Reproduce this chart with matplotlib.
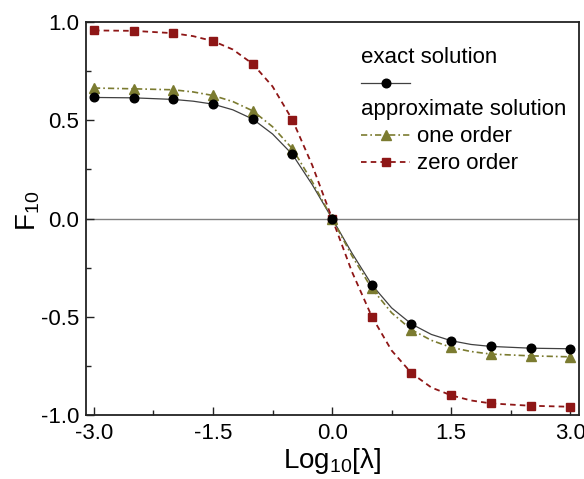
import matplotlib
matplotlib.use("Agg")
import matplotlib.pyplot as plt
from matplotlib.lines import Line2D
from matplotlib.legend_handler import HandlerTuple
from matplotlib.ticker import MultipleLocator

plt.rcParams['font.family'] = ['Liberation Sans', 'DejaVu Sans']
plt.rcParams['mathtext.fontset'] = 'custom'
plt.rcParams['mathtext.rm'] = 'Liberation Sans'
plt.rcParams['mathtext.default'] = 'regular'
plt.rcParams['axes.unicode_minus'] = False
plt.rcParams['lines.scale_dashes'] = False

# ---- data ----
marker_x = [-3.0, -2.5, -2.0, -1.5, -1.0, -0.5, 0.0, 0.5, 1.0, 1.5, 2.0, 2.5, 3.0]
exact_pts = [0.616, 0.614, 0.606, 0.582, 0.506, 0.326, 0.0, -0.337, -0.537, -0.622, -0.651, -0.660, -0.663]
one_pts = [0.664, 0.660, 0.655, 0.626, 0.548, 0.355, 0.0, -0.356, -0.566, -0.656, -0.690, -0.699, -0.704]
zero_pts = [0.957, 0.955, 0.943, 0.903, 0.787, 0.502, 0.0, -0.499, -0.787, -0.900, -0.941, -0.953, -0.958]

line_x = [-3.0, -2.5, -2.0, -1.75, -1.5, -1.25, -1.0, -0.75, -0.5, -0.25, 0.0,
          0.25, 0.5, 0.75, 1.0, 1.25, 1.5, 1.75, 2.0, 2.5, 3.0]
exact_line = [0.616, 0.614, 0.606, 0.597, 0.582, 0.553, 0.506, 0.430, 0.326, 0.172, 0.0,
              -0.176, -0.337, -0.455, -0.537, -0.590, -0.622, -0.641, -0.651, -0.660, -0.663]
one_line = [0.664, 0.660, 0.655, 0.644, 0.626, 0.595, 0.548, 0.467, 0.355, 0.187, 0.0,
            -0.190, -0.356, -0.480, -0.566, -0.620, -0.656, -0.677, -0.690, -0.699, -0.704]
zero_line = [0.957, 0.955, 0.943, 0.928, 0.903, 0.860, 0.787, 0.672, 0.502, 0.271, 0.0,
             -0.271, -0.499, -0.672, -0.787, -0.860, -0.900, -0.926, -0.941, -0.953, -0.958]

x_ticks = [-3.0, -1.5, 0.0, 1.5, 3.0]
y_ticks = [-1.0, -0.5, 0.0, 0.5, 1.0]

RED = '#8e1616'
OLIVE = '#7b7b30'
GRAY = '#404040'

fig = plt.figure(figsize=(5.84, 4.79), dpi=100)
ax = fig.add_axes([86 / 584, 64 / 479, 493 / 584, 393 / 479])

ax.axhline(0, color='#808080', lw=1.0, zorder=1)

dash_zero = (0, (4.0, 3.0))
dash_one = (0, (4.5, 2.2, 1.2, 2.2))

ax.plot(line_x, exact_line, color=GRAY, lw=0.9, zorder=2)
ax.plot(line_x, one_line, color=OLIVE, lw=1.2, ls=dash_one, zorder=2)
ax.plot(line_x, zero_line, color=RED, lw=1.3, ls=dash_zero, zorder=2)

ax.plot(marker_x, zero_pts, ls='none', marker='s', ms=5.4, color=RED, zorder=3)
ax.plot(marker_x, one_pts, ls='none', marker='^', ms=6.8, color=OLIVE, zorder=3)
ax.plot(marker_x, exact_pts, ls='none', marker='o', ms=6.2, color='black', zorder=4)

ax.set_xlim(-3.1, 3.11)
ax.set_ylim(-1.0, 1.0)
ax.set_xticks(x_ticks)
ax.set_yticks(y_ticks)
ax.set_xticklabels([f"{v:.1f}" for v in x_ticks])
ax.set_yticklabels([f"{v:.1f}" for v in y_ticks])
ax.xaxis.set_minor_locator(MultipleLocator(0.75))
ax.yaxis.set_minor_locator(MultipleLocator(0.25))
ax.tick_params(which='both', direction='in', top=False, right=False, width=1.0, color='#222222')
ax.tick_params(which='major', length=6, labelsize=16)
ax.tick_params(axis='x', which='major', pad=6)
ax.tick_params(axis='y', which='major', pad=5)
ax.tick_params(which='minor', length=3.5)
for s in ax.spines.values():
    s.set_linewidth(1.3)
    s.set_color('#222222')

ax.set_xlabel('Log$_{10}$[λ]', fontsize=20, labelpad=1)
ax.set_ylabel('F$_{10}$', fontsize=20)
ax.yaxis.set_label_coords(-0.089, 0.52)

# legends
h_exact_line = Line2D([], [], color=GRAY, lw=0.9)
h_exact_mark = Line2D([], [], ls='none', marker='o', ms=6.2, color='black')
h_one = Line2D([], [], color=OLIVE, lw=1.2, ls=dash_one, marker='^', ms=6.8)
h_zero = Line2D([], [], color=RED, lw=1.3, ls=dash_zero, marker='s', ms=5.4)

leg1 = ax.legend([(h_exact_line, h_exact_mark)], [' '], title='exact solution',
                 title_fontsize=16, fontsize=16,
                 loc='upper left', bbox_to_anchor=(0.558, 0.937), frameon=False,
                 borderpad=0, borderaxespad=0, handlelength=2.2, handletextpad=0.3,
                 numpoints=1, alignment='left', labelspacing=0.3,
                 handler_map={tuple: HandlerTuple(ndivide=1, pad=0)})
ax.add_artist(leg1)
leg2 = ax.legend([h_one, h_zero], ['one order', 'zero order'], title='approximate solution',
                 title_fontsize=16, fontsize=16, loc='upper left',
                 bbox_to_anchor=(0.558, 0.803), frameon=False, borderpad=0,
                 borderaxespad=0, handlelength=2.2, handletextpad=0.3, numpoints=1,
                 alignment='left', labelspacing=0.27)

fig.savefig('out.png', dpi=100)
